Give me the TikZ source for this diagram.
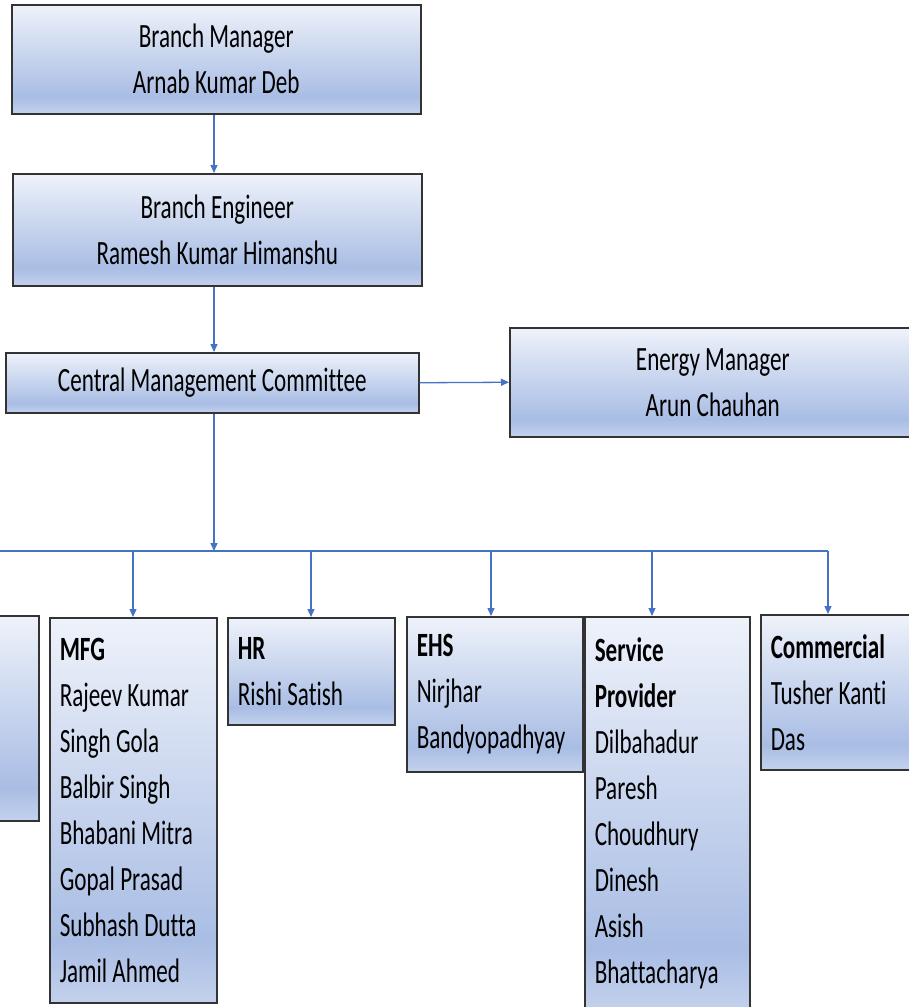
\documentclass[tikz,border=0pt]{standalone}
\usepackage{fontspec}
\setmainfont{Carlito}[FakeStretch=0.68,Ligatures=CommonOff]
\usetikzlibrary{arrows.meta,positioning}
\definecolor{lnblue}{HTML}{4472C4}
\definecolor{gtop}{HTML}{EEF2FA}
\definecolor{gmid}{HTML}{A9BDE4}
\definecolor{gbot}{HTML}{C3D1EC}
\pgfdeclareverticalshading{boxshade}{100bp}{color(0bp)=(gbot); color(25bp)=(gbot); color(33bp)=(gmid); color(75bp)=(gtop); color(100bp)=(gtop)}

\begin{document}
\begin{tikzpicture}[x=1pt,y=-1pt,
  box/.style={draw=black!80,line width=1.5pt,shading=boxshade,anchor=north west,
    inner ysep=0pt,font=\fontsize{34}{46}\selectfont},
  topbox/.style={box,align=center,inner xsep=0pt},
  listbox/.style={box,align=flush left,inner xsep=10pt},
  conn/.style={draw=lnblue,line width=1.3pt,-{Triangle[width=7pt,length=8pt]}},
  busline/.style={draw=lnblue,line width=1.3pt}]
\useasboundingbox (0,0) rectangle (909,1007);
\clip (0,0) rectangle (909,1007);
%\draw[help lines] (0,0) grid (909,1007);
\node[topbox,minimum width=409pt,minimum height=109pt] (bm) at (11,4) {Branch Manager\\Arnab Kumar Deb};
\node[topbox,minimum width=409pt,minimum height=112pt] (be) at (12,173) {Branch Engineer\\Ramesh Kumar Himanshu};
\node[topbox,minimum width=413pt,minimum height=60pt] (cmc) at (5,352) {Central Management Committee};
\node[topbox,minimum width=406pt,minimum height=109pt] (em) at (509,327) {Energy Manager\\Arun Chauhan};
\node[listbox,text width=147pt,minimum height=205pt] (other) at (-129,615) {};
\node[listbox,text width=147pt,minimum height=385pt] (mfg) at (49,617)
  {\textbf{MFG}\\Rajeev Kumar\\Singh Gola\\Balbir Singh\\Bhabani Mitra\\Gopal Prasad\\Subhash Dutta\\Jamil Ahmed};
\node[listbox,text width=147pt,minimum height=107pt] (hr) at (227,617) {\textbf{HR}\\Rishi Satish};
\node[listbox,text width=156pt,minimum height=155pt] (ehs) at (406,616) {\textbf{EHS}\\Nirjhar\\Bandyopadhyay};
\node[listbox,text width=145pt,minimum height=394pt] (sp) at (584,616)
  {\textbf{Service}\\\textbf{Provider}\\Dilbahadur\\Paresh\\Choudhury\\Dinesh\\Asish\\Bhattacharya};
\node[listbox,text width=147pt,minimum height=155pt] (com) at (760,614) {\textbf{Commercial}\\Tusher Kanti\\Das};
\coordinate (bus) at (214,551);
\coordinate (busL) at (-20,551);
\coordinate (busR) at (828,551);
\draw[conn] (bm.south -| 214,0) -- (be.north -| 214,0);
\draw[conn] (be.south -| 214,0) -- (cmc.north -| 214,0);
\draw[conn] (cmc.east) -- (em.west);
\draw[conn] (cmc.south -| bus) -- (bus);
\draw[busline] (busL) -- (busR);
\foreach \n/\x in {mfg/133,hr/311,ehs/491,sp/652,com/828}
  \draw[conn] (\x,551) -- (\n.north -| \x,0);
\end{tikzpicture}
\end{document}
